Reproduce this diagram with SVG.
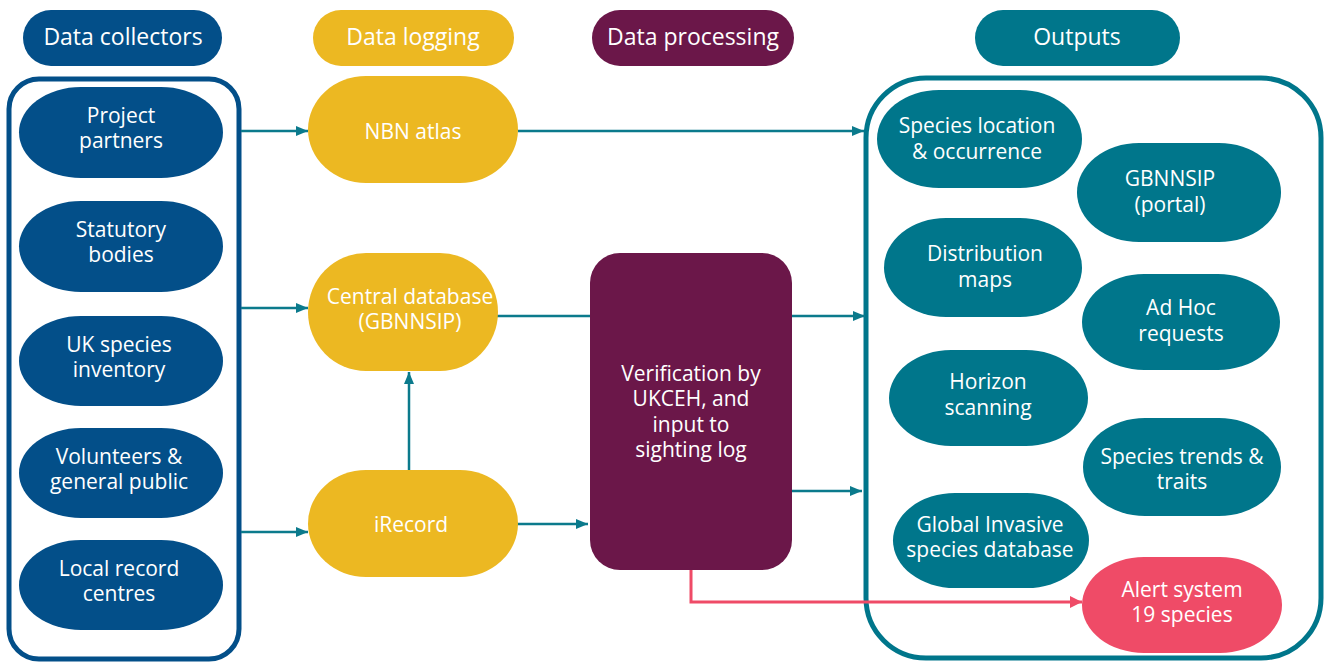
<svg xmlns="http://www.w3.org/2000/svg" width="1329" height="663" viewBox="0 0 1329 663">
<defs>
<style>
text{font-family:"Open Sans","Noto Sans","Liberation Sans",sans-serif;fill:#fff;text-anchor:middle;font-size:21px}
.h{font-size:23px}
.blue{fill:#034F89}
.yel{fill:#ECB822}
.pur{fill:#6B1749}
.teal{fill:#00768B}
.red{fill:#EF4B67}
.ln{fill:none;stroke:#0B7A8C;stroke-width:2.5}
.rl{fill:none;stroke:#EF4B67;stroke-width:3}
</style>
<marker id="at" markerWidth="12" markerHeight="10" refX="12" refY="5" orient="auto" markerUnits="userSpaceOnUse"><path d="M0,0 L12,5 L0,10 Z" fill="#0B7A8C"/></marker>
<marker id="ar" markerWidth="12" markerHeight="12" refX="12" refY="6" orient="auto" markerUnits="userSpaceOnUse"><path d="M0,0 L12,6 L0,12 Z" fill="#EF4B67"/></marker>
</defs>
<rect width="1329" height="663" fill="#fff"/>

<g id="headers">
<g id="h-collectors"><rect class="blue" x="23" y="10" width="199" height="56" rx="28"/><text class="h" x="123" y="45">Data collectors</text></g>
<g id="h-logging"><rect class="yel" x="313" y="10" width="201" height="56" rx="28"/><text class="h" x="413" y="45">Data logging</text></g>
<g id="h-processing"><rect class="pur" x="592" y="10" width="202" height="56" rx="28"/><text class="h" x="693" y="45">Data processing</text></g>
<g id="h-outputs"><rect class="teal" x="975" y="10" width="205" height="56" rx="28"/><text class="h" x="1077" y="45">Outputs</text></g>
</g>

<g id="containers">
<rect id="collectors-box" x="9" y="79" width="230" height="580" rx="30" fill="none" stroke="#034F89" stroke-width="5"/>
<rect id="outputs-box" x="866" y="78" width="455" height="580" rx="60" fill="none" stroke="#00768B" stroke-width="5"/>
</g>

<g id="connectors">
<line class="ln" x1="241" y1="131" x2="308" y2="131" marker-end="url(#at)"/>
<line class="ln" x1="241" y1="308" x2="308" y2="308" marker-end="url(#at)"/>
<line class="ln" x1="241" y1="532" x2="308" y2="532" marker-end="url(#at)"/>
<line class="ln" x1="518" y1="131" x2="864" y2="131" marker-end="url(#at)"/>
<line class="ln" x1="409" y1="470" x2="409" y2="372" marker-end="url(#at)"/>
<line class="ln" x1="496" y1="316" x2="590" y2="316"/>
<line class="ln" x1="516" y1="524" x2="588" y2="524" marker-end="url(#at)"/>
<line class="ln" x1="792" y1="316" x2="865" y2="316" marker-end="url(#at)"/>
<line class="ln" x1="792" y1="491" x2="862" y2="491" marker-end="url(#at)"/>
<polyline class="rl" points="691,570 691,602 1082,602" marker-end="url(#ar)"/>
</g>

<g id="project-partners"><rect class="blue" x="19" y="87" width="204" height="91" rx="62" ry="45.5"/><text x="121" y="123">Project<tspan x="121" dy="25">partners</tspan></text></g>
<g id="statutory-bodies"><rect class="blue" x="19" y="201" width="204" height="91" rx="62" ry="45.5"/><text x="121" y="237">Statutory<tspan x="121" dy="25">bodies</tspan></text></g>
<g id="uk-species-inventory"><rect class="blue" x="19" y="316" width="204" height="90" rx="62" ry="45"/><text x="119" y="352">UK species<tspan x="119" dy="25">inventory</tspan></text></g>
<g id="volunteers"><rect class="blue" x="19" y="428" width="204" height="90" rx="62" ry="45"/><text x="119" y="464">Volunteers &amp;<tspan x="119" dy="25">general public</tspan></text></g>
<g id="local-record-centres"><rect class="blue" x="19" y="540" width="204" height="90" rx="62" ry="45"/><text x="119" y="576">Local record<tspan x="119" dy="25">centres</tspan></text></g>

<g id="nbn-atlas"><rect class="yel" x="308" y="76" width="210" height="107" rx="58" ry="53.5"/><text x="413" y="139">NBN atlas</text></g>
<g id="central-database"><rect class="yel" x="308" y="253" width="190" height="118" rx="58" ry="59"/><text x="410" y="304">Central database<tspan x="410" dy="25">(GBNNSIP)</tspan></text></g>
<g id="irecord"><rect class="yel" x="308" y="470" width="210" height="107" rx="58" ry="53.5"/><text x="411" y="532">iRecord</text></g>

<g id="verification"><rect class="pur" x="590" y="253" width="202" height="317" rx="30"/><text x="691" y="381">Verification by<tspan x="691" dy="25">UKCEH, and</tspan><tspan x="691" dy="26">input to</tspan><tspan x="691" dy="25">sighting log</tspan></text></g>

<g id="species-location"><rect class="teal" x="877" y="90" width="205" height="98" rx="62" ry="49"/><text x="977" y="133">Species location<tspan x="977" dy="26">&amp; occurrence</tspan></text></g>
<g id="gbnnsip-portal"><rect class="teal" x="1077" y="143" width="204" height="99" rx="62" ry="49.5"/><text x="1170" y="186">GBNNSIP<tspan x="1170" dy="26">(portal)</tspan></text></g>
<g id="distribution-maps"><rect class="teal" x="884" y="218" width="198" height="99" rx="62" ry="49.5"/><text x="985" y="261">Distribution<tspan x="985" dy="26">maps</tspan></text></g>
<g id="ad-hoc"><rect class="teal" x="1082" y="274" width="198" height="96" rx="62" ry="48"/><text x="1181" y="315">Ad Hoc<tspan x="1181" dy="26">requests</tspan></text></g>
<g id="horizon-scanning"><rect class="teal" x="889" y="350" width="199" height="96" rx="62" ry="48"/><text x="988" y="389">Horizon<tspan x="988" dy="26">scanning</tspan></text></g>
<g id="species-trends"><rect class="teal" x="1083" y="418" width="198" height="98" rx="62" ry="49"/><text x="1182" y="464">Species trends &amp;<tspan x="1182" dy="25">traits</tspan></text></g>
<g id="global-invasive"><rect class="teal" x="893" y="493" width="196" height="95" rx="62" ry="47.5"/><text x="990" y="532">Global Invasive<tspan x="990" dy="25">species database</tspan></text></g>
<g id="alert-system"><rect class="red" x="1082" y="557" width="200" height="96" rx="62" ry="48"/><text x="1182" y="597">Alert system<tspan x="1182" dy="25">19 species</tspan></text></g>
</svg>
